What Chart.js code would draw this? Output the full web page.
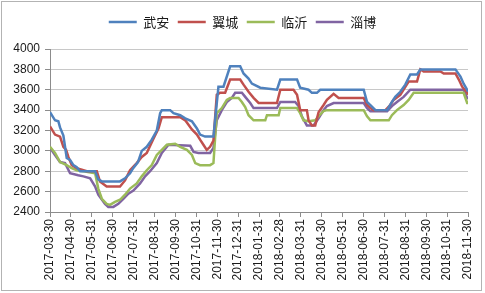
<!DOCTYPE html>
<html>
<head>
<meta charset="utf-8">
<script src="https://cdn.jsdelivr.net/npm/chart.js@4"></script>
<style>
html,body{margin:0;padding:0;background:#fff;}
canvas{display:block;}
</style>
</head>
<body>
<canvas id="c" width="485" height="293"></canvas>
<script>
// Tick labels (month ends), one per month index 0..20
const tickLabels = ["2017-03-30","2017-04-30","2017-05-31","2017-06-30","2017-07-31","2017-08-31","2017-09-30","2017-10-31","2017-11-30","2017-12-31","2018-01-31","2018-02-28","2018-03-31","2018-04-30","2018-05-31","2018-06-30","2018-07-31","2018-08-31","2018-09-30","2018-10-31","2018-11-30"];
const seriesNames = ["武安","翼城","临沂","淄博"];

// Each series: positions in months since 2017-03-30, and prices
const wuanX = [0,0.24,0.40,0.48,0.64,0.80,0.96,1.12,1.28,1.44,2.16,2.31,2.48,3.35,3.59,3.83,3.98,4.21,4.39,4.63,4.87,5.11,5.27,5.35,5.75,5.91,6.23,6.47,6.79,7.03,7.18,7.42,7.82,8.06,8.30,8.62,9.10,9.26,9.50,9.66,10.06,10.86,11.02,11.82,11.97,12.37,12.53,12.77,12.93,15.01,15.17,15.33,15.57,16.13,16.36,16.52,16.76,17.00,17.24,17.56,17.72,19.40,19.64,19.79,19.96,20];
const wuanY = [3380,3300,3290,3230,3150,2930,2910,2860,2840,2800,2800,2720,2700,2700,2730,2780,2830,2890,3000,3040,3110,3200,3370,3400,3400,3370,3350,3320,3290,3220,3160,3140,3140,3630,3630,3830,3830,3760,3710,3660,3620,3600,3700,3700,3620,3600,3570,3570,3600,3600,3480,3450,3400,3400,3480,3530,3580,3650,3750,3750,3800,3800,3730,3660,3600,3580];

const yichengX = [0,0.24,0.48,0.64,0.77,0.88,1.04,1.28,1.76,2.24,2.39,2.71,3.35,3.59,3.83,4.15,4.39,4.63,4.95,5.19,5.35,6.07,6.23,6.47,6.79,7.03,7.18,7.34,7.50,7.66,7.82,7.98,8.14,8.38,8.62,9.10,9.26,9.50,9.74,9.98,10.86,11.02,11.65,11.82,11.97,12.29,12.37,12.53,12.69,12.85,13.09,13.25,13.57,13.81,15.01,15.17,15.33,15.49,16.05,16.28,16.44,16.76,17.16,17.56,17.72,17.88,18.68,18.84,19.40,19.56,19.72,19.96,20];
const yichengY = [3240,3160,3140,3040,3010,2940,2860,2830,2800,2800,2700,2650,2650,2710,2810,2880,2940,2980,3120,3220,3330,3330,3330,3300,3210,3160,3110,3060,3010,3040,3100,3550,3570,3570,3700,3700,3650,3580,3520,3470,3470,3600,3600,3550,3400,3400,3300,3250,3250,3380,3450,3500,3560,3520,3520,3450,3420,3400,3400,3450,3500,3550,3680,3680,3800,3780,3780,3760,3760,3700,3630,3570,3550];

const linyiX = [0,0.24,0.48,0.80,1.04,1.28,1.60,2.16,2.31,2.48,2.71,2.87,3.11,3.35,3.59,3.83,4.15,4.39,4.63,4.87,5.11,5.35,5.59,5.99,6.23,6.55,6.79,6.95,7.18,7.66,7.82,7.98,8.22,8.46,8.62,9.02,9.18,9.34,9.50,9.74,10.30,10.38,10.94,11.02,11.82,11.97,12.13,12.37,12.69,12.85,13.09,13.25,15.01,15.17,15.33,16.21,16.36,16.60,16.92,17.16,17.40,19.79,19.96,20];
const linyiY = [3040,2980,2890,2860,2830,2810,2800,2780,2630,2530,2480,2470,2500,2520,2570,2630,2680,2750,2810,2860,2960,3010,3060,3070,3040,3010,2960,2880,2860,2860,2880,3370,3420,3500,3520,3520,3480,3430,3350,3300,3300,3350,3350,3420,3420,3370,3300,3290,3300,3340,3390,3400,3400,3340,3300,3300,3350,3400,3450,3500,3570,3570,3470,3470];

const ziboX = [0,0.24,0.48,0.72,0.96,1.35,1.60,1.92,2.16,2.31,2.63,2.79,3.03,3.27,3.51,3.75,3.99,4.31,4.55,4.79,5.11,5.35,5.67,6.71,6.87,7.10,7.66,7.82,7.98,8.22,8.46,8.70,8.86,9.18,9.34,9.58,9.74,10.86,11.02,11.73,11.89,12.05,12.29,12.61,12.85,13.09,13.25,13.57,15.01,15.17,15.33,16.13,16.36,16.60,16.92,17.24,19.79,19.96,20];
const ziboY = [3030,2960,2890,2880,2780,2760,2750,2730,2650,2570,2480,2450,2450,2480,2530,2580,2610,2680,2750,2800,2880,2980,3060,3050,2990,2980,2980,3030,3300,3400,3480,3520,3570,3570,3530,3470,3420,3420,3480,3480,3440,3340,3250,3250,3320,3400,3440,3470,3470,3420,3390,3390,3440,3480,3530,3600,3600,3520,3510];

const colors = ["#4F81BD","#C0504D","#9BBB59","#8064A2"];
const xs = [wuanX, yichengX, linyiX, ziboX];
const ys = [wuanY, yichengY, linyiY, ziboY];

const datasets = seriesNames.map((name, i) => ({
  label: name,
  data: xs[i].map((x, j) => ({x: x, y: ys[i][j]})),
  borderColor: colors[i],
  backgroundColor: colors[i],
  borderWidth: 2.5,
  pointRadius: 0,
  tension: 0,
  fill: false,
  yAxisID: 'y'
}));

const frame = {
  id: 'frame',
  beforeLayout(chart) {
    const lg = chart.legend;
    if (lg && !lg._patched) {
      const fit = lg.fit;
      lg.fit = function() { fit.call(this); this.height = 42; };
      lg._patched = true;
    }
  },
  beforeDraw(chart) {
    const ctx = chart.ctx;
    ctx.save();
    ctx.fillStyle = '#ffffff';
    ctx.fillRect(0, 0, chart.width, chart.height);
    ctx.strokeStyle = '#b3b3b3';
    ctx.lineWidth = 1;
    ctx.strokeRect(1.5, 1.5, 480, 289);
    ctx.restore();
  }
};

Chart.defaults.font.family = "'Liberation Sans', 'Noto Sans CJK SC', sans-serif";
Chart.defaults.color = '#1a1a1a';

new Chart(document.getElementById('c'), {
  type: 'line',
  data: { datasets },
  plugins: [frame],
  options: {
    responsive: false,
    animation: false,
    layout: { padding: { top: 7, left: 0, right: 0, bottom: 0 } },
    plugins: {
      legend: {
        position: 'top',
        labels: {
          usePointStyle: true,
          pointStyle: 'line',
          pointStyleWidth: 28,
          padding: 8.5,
          font: { size: 13, family: "'Noto Sans CJK SC', sans-serif" },
          color: '#1a1a1a'
        }
      },
      tooltip: { enabled: false }
    },
    scales: {
      x: {
        type: 'linear',
        min: 0,
        max: 20,
        afterBuildTicks(scale) {
          scale.ticks = tickLabels.map((_, i) => ({ value: i }));
        },
        afterFit(scale) { scale.height = 81; },
        ticks: {
          autoSkip: false,
          minRotation: 90,
          maxRotation: 90,
          padding: 2,
          font: { size: 12 },
          callback: (v) => tickLabels[v] !== undefined ? tickLabels[v] : ''
        },
        grid: {
          display: true,
          drawOnChartArea: false,
          drawTicks: true,
          tickLength: 5,
          color: '#8c8c8c'
        },
        border: { display: true, color: '#8c8c8c' }
      },
      y: {
        position: 'left',
        min: 2400,
        max: 4000,
        afterFit(scale) { scale.width = 50; },
        ticks: {
          stepSize: 200,
          padding: 5,
          font: { size: 12 },
          callback: (v) => String(v)
        },
        grid: {
          color: '#c8c8c8',
          tickColor: '#8c8c8c',
          tickLength: 5,
          drawTicks: true
        },
        border: { display: true, color: '#8c8c8c' }
      },
      yRightSpace: {
        position: 'right',
        display: true,
        min: 0,
        max: 1,
        afterFit(scale) { scale.width = 17; },
        ticks: { display: false },
        grid: { display: false, drawTicks: false },
        border: { display: false }
      }
    }
  }
});
</script>
</body>
</html>
